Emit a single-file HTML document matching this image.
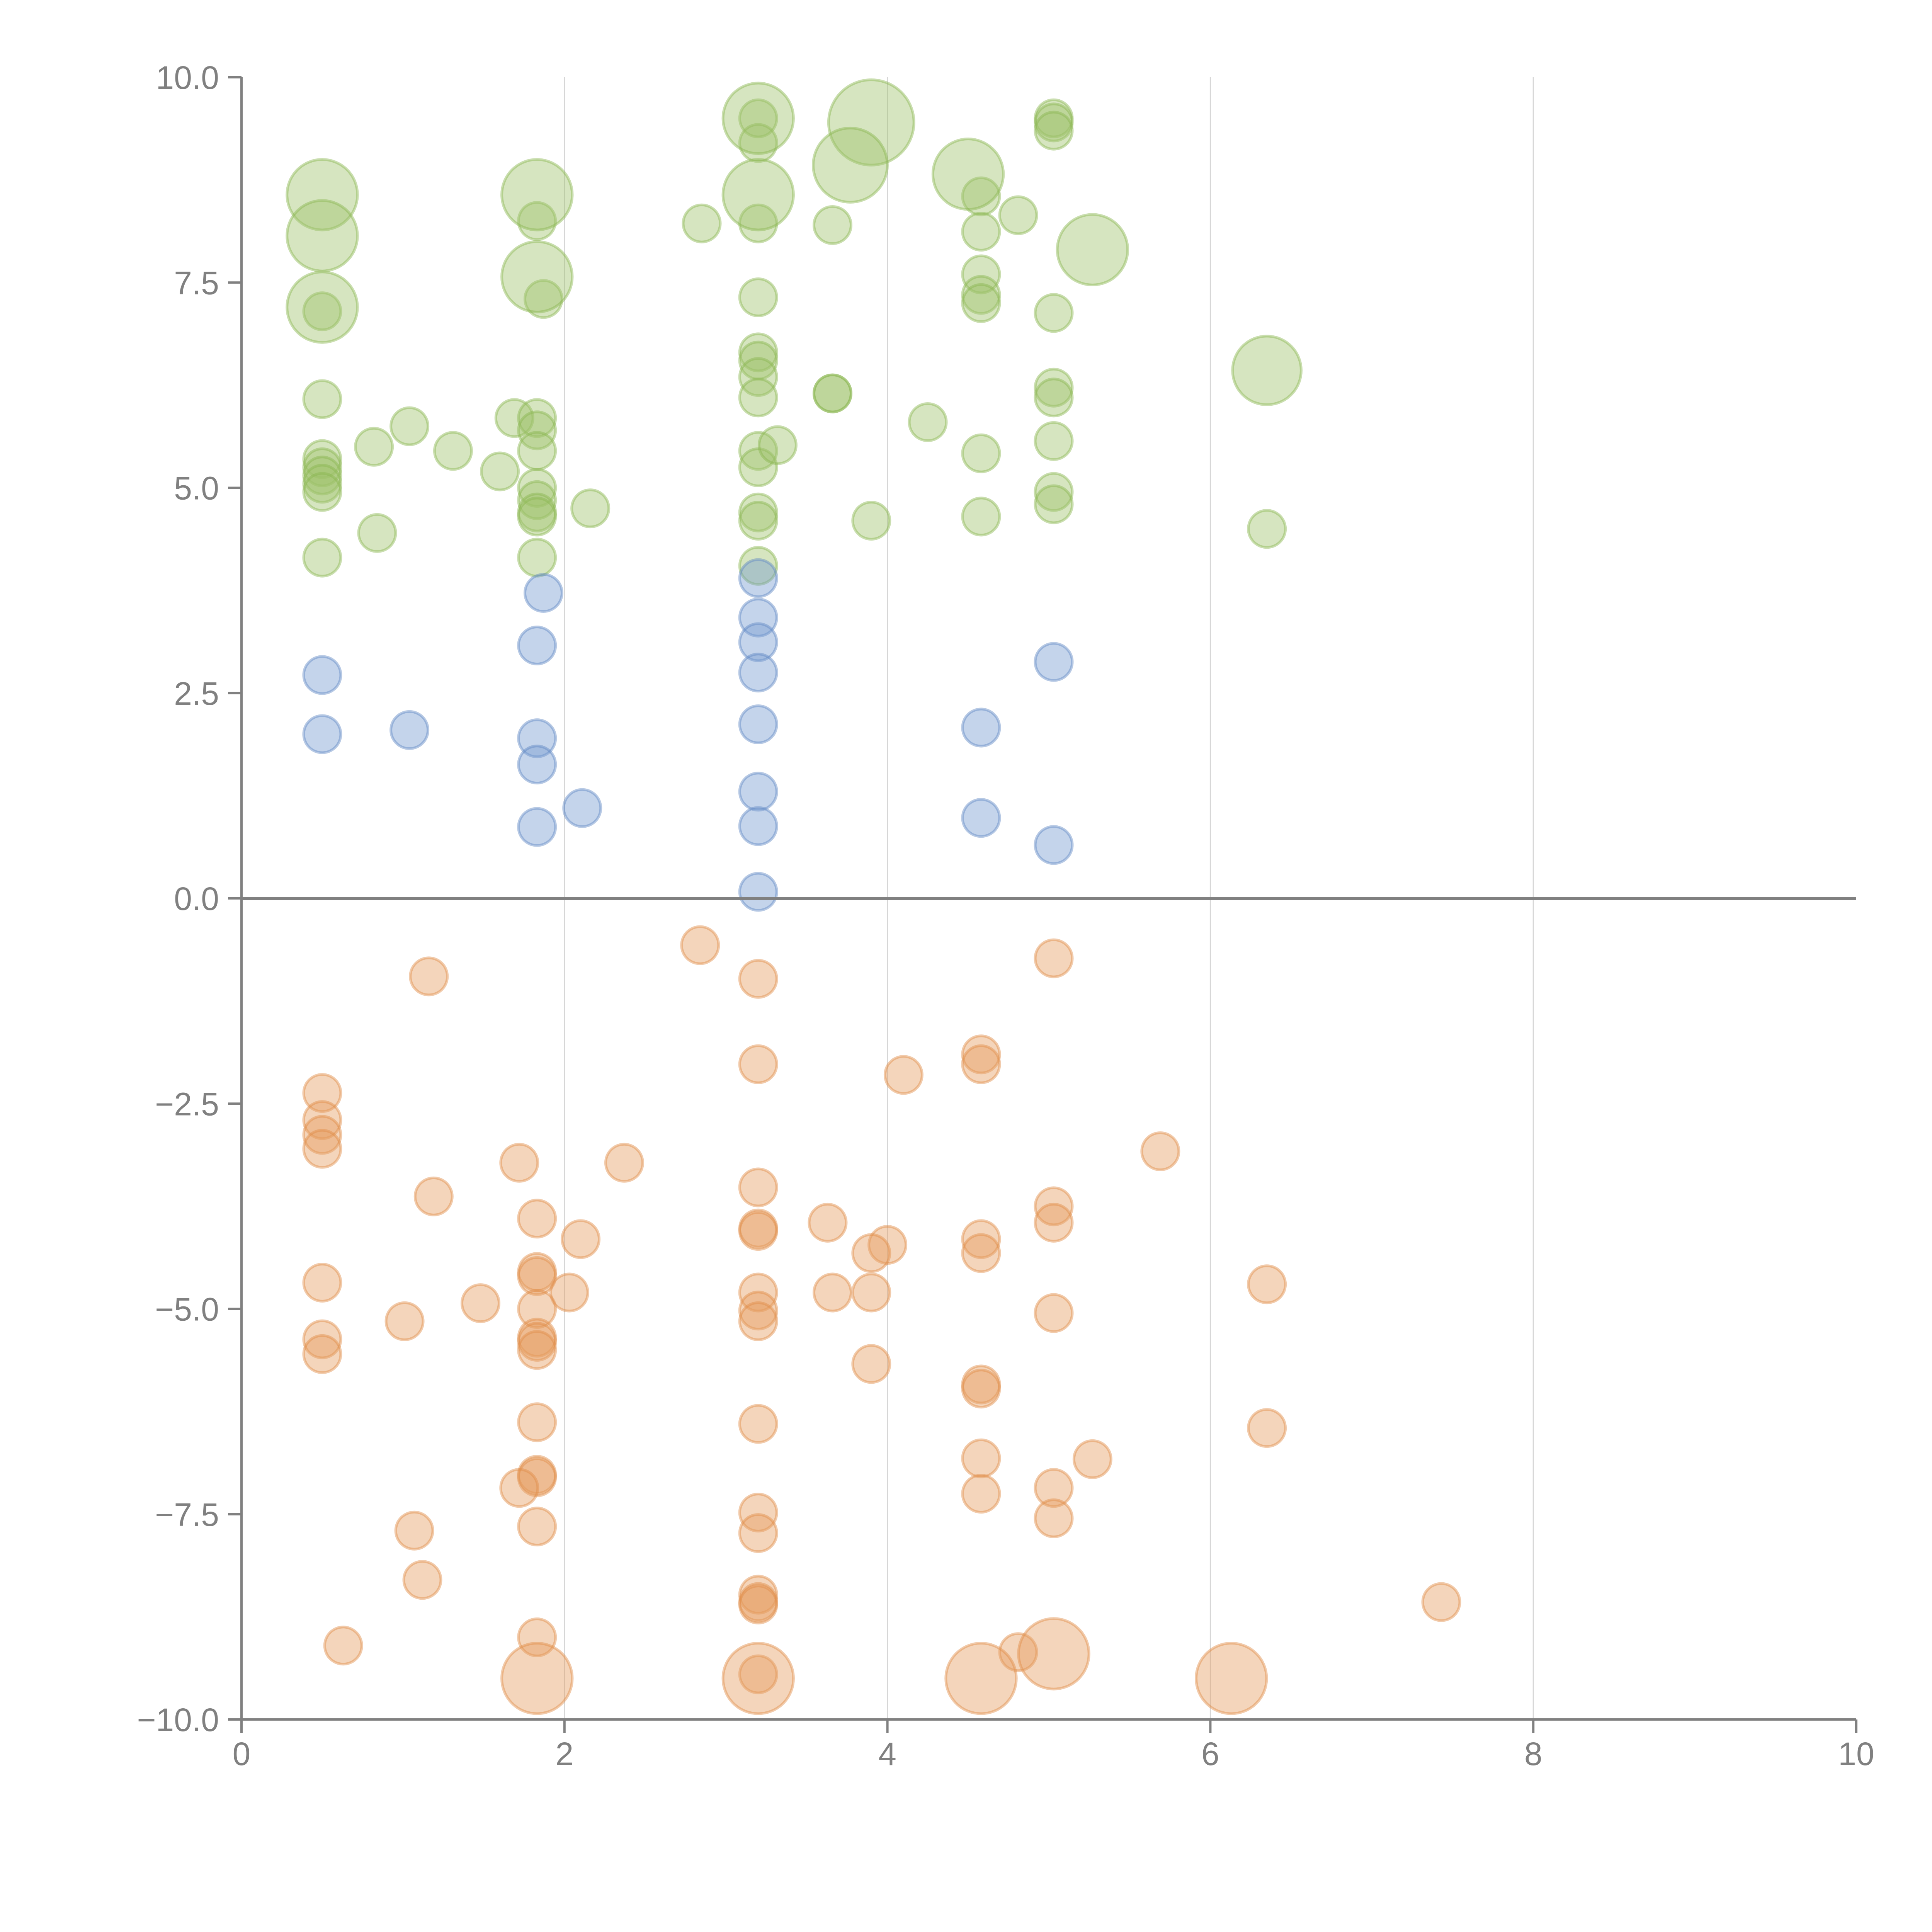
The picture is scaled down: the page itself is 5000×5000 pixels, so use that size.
<!DOCTYPE html>
<html><head><meta charset="utf-8"><style>
html,body{margin:0;padding:0;background:#fff;}
svg{display:block;}
text{font-family:"Liberation Sans",sans-serif;fill:#808080;font-size:84px;}
</style></head><body>
<svg id="chart" width="5000" height="5000" viewBox="0 0 5000 5000" xmlns="http://www.w3.org/2000/svg">
<g id="grid"></g>
<g id="marks"></g>
<g id="axes"></g>
</svg>
<script>
const xTicks=[0,2,4,6,8,10];
const yTicks=[-10,-7.5,-5,-2.5,0,2.5,5,7.5,10];
const yTickLabels=["\u221210.0","\u22127.5","\u22125.0","\u22122.5","0.0","2.5","5.0","7.5","10.0"];
const greenX=[0.5,0.5,0.5,0.5,0.5,0.5,0.5,0.5,0.82,0.84,1.04,1.31,1.6,1.69,1.83,1.83,1.83,1.83,1.83,1.83,1.83,1.83,1.83,1.87,2.16,2.85,3.2,3.2,3.2,3.2,3.2,3.2,3.2,3.2,3.2,3.2,3.2,3.2,3.2,3.32,3.66,3.66,3.66,3.9,4.25,4.58,4.58,4.58,4.58,4.58,4.58,4.58,4.81,5.03,5.03,5.03,5.03,5.03,5.03,5.03,5.03,5.03,6.35,
0.5,0.5,0.5,1.83,1.83,3.2,3.2,3.9,3.77,4.5,5.27,6.35];
const greenY=[7.15,6.08,5.35,5.25,5.15,5.05,4.95,4.15,5.5,4.45,5.75,5.45,5.2,5.85,8.25,5.85,5.7,5.45,5.0,4.85,4.7,4.65,4.15,7.3,4.75,8.22,9.5,9.2,8.22,7.32,6.65,6.55,6.35,6.1,5.45,5.25,4.7,4.6,4.05,5.52,8.2,6.15,6.15,4.6,5.8,8.55,8.12,7.6,7.35,7.25,5.42,4.65,8.32,9.5,9.45,9.35,7.13,6.22,6.1,5.57,4.95,4.8,4.5,
8.57,8.07,7.2,8.57,7.57,9.5,8.57,9.45,8.93,8.82,7.9,6.43];
const greenSize=[1,1,1,1,1,1,1,1,1,1,1,1,1,1,1,1,1,1,1,1,1,1,1,1,1,1,1,1,1,1,1,1,1,1,1,1,1,1,1,1,1,1,1,1,1,1,1,1,1,1,1,1,1,1,1,1,1,1,1,1,1,1,1,
1.9,1.9,1.9,1.9,1.9,1.9,1.9,2.3,2.0,1.9,1.9,1.85];
const blueX=[0.5,0.5,1.04,1.83,1.87,1.83,1.83,1.83,2.11,3.2,3.2,3.2,3.2,3.2,3.2,3.2,3.2,4.58,4.58,5.03,5.03];
const blueY=[2.72,2.0,2.05,3.08,3.72,1.95,1.63,0.87,1.1,3.9,3.42,3.12,2.75,2.12,1.3,0.88,0.08,2.08,0.98,2.88,0.65];
const orangeX=[2.84,1.16,3.2,5.03,3.2,4.1,4.58,4.58,0.5,0.5,0.5,0.5,1.72,2.37,5.69,1.19,3.2,1.83,3.2,3.2,3.63,2.1,5.03,5.03,4.58,4.58,4.0,3.9,1.83,1.83,0.5,6.35,3.2,3.66,3.9,2.03,1.48,1.83,3.2,3.2,1.01,5.03,0.5,0.5,1.83,1.83,1.83,3.9,4.58,4.58,1.83,3.2,6.35,4.58,5.27,1.83,1.83,1.72,5.03,4.58,3.2,5.03,1.83,1.07,3.2,1.12,3.2,3.2,3.2,7.43,1.83,0.63,3.2,4.81,
1.83,3.2,4.58,5.03,6.13];
const orangeY=[-0.57,-0.95,-0.98,-0.73,-2.02,-2.15,-1.9,-2.02,-2.37,-2.7,-2.88,-3.05,-3.22,-3.22,-3.08,-3.63,-3.52,-3.9,-4.02,-4.05,-3.95,-4.15,-3.75,-3.95,-4.15,-4.32,-4.22,-4.32,-4.55,-4.6,-4.68,-4.7,-4.8,-4.8,-4.8,-4.8,-4.93,-5.0,-5.02,-5.15,-5.15,-5.05,-5.37,-5.55,-5.35,-5.4,-5.5,-5.67,-5.92,-5.97,-6.38,-6.4,-6.45,-6.82,-6.83,-7.02,-7.05,-7.18,-7.18,-7.25,-7.48,-7.55,-7.65,-7.7,-7.73,-8.3,-8.48,-8.57,-8.6,-8.57,-9.0,-9.1,-9.45,-9.18,
-9.5,-9.5,-9.5,-9.2,-9.5];
const orangeSize=[1,1,1,1,1,1,1,1,1,1,1,1,1,1,1,1,1,1,1,1,1,1,1,1,1,1,1,1,1,1,1,1,1,1,1,1,1,1,1,1,1,1,1,1,1,1,1,1,1,1,1,1,1,1,1,1,1,1,1,1,1,1,1,1,1,1,1,1,1,1,1,1,1,1,
1.9,1.9,1.9,1.9,1.9];

const X0=625,X1=4804,Y0=4450,Y1=200;
function sx(v){return X0+(v-0)/(10-0)*(X1-X0);}
function sy(v){return Y0-(v+10)/20*(Y0-Y1);}
const NS="http://www.w3.org/2000/svg";
function mk(tag,parent,attrs){const e=document.createElementNS(NS,tag);for(const k in attrs)e.setAttribute(k,attrs[k]);parent.appendChild(e);return e;}
const grid=document.getElementById('grid'),marks=document.getElementById('marks'),axes=document.getElementById('axes');
xTicks.forEach(t=>{if(t>0&&t<10){const l=mk('line',grid,{x1:sx(t),x2:sx(t),y1:Y1,y2:Y0,stroke:'#d6d6d6','stroke-width':3});

}});
function series(xs,ys,ss,fill,stroke,name){
  for(let i=0;i<xs.length;i++){
    const c=mk('circle',marks,{cx:sx(xs[i]),cy:sy(ys[i]),r:48*(ss?ss[i]:1),fill:fill,'fill-opacity':0.42,stroke:stroke,'stroke-opacity':0.45,'stroke-width':7});
    
    
  }
}
series(greenX,greenY,greenSize,'#9dc26a','#8ab650','green-bubble');
series(blueX,blueY,null,'#7399cf','#5f88c4','blue-bubble');
series(orangeX,orangeY,orangeSize,'#e59a5c','#e08c48','orange-bubble');
// zero line
const z=mk('line',axes,{x1:X0,x2:X1,y1:sy(0),y2:sy(0),stroke:'#808080','stroke-width':8});


const ya=mk('line',axes,{x1:X0,x2:X0,y1:Y1,y2:Y0,stroke:'#808080','stroke-width':6});


const xa=mk('line',axes,{x1:X0,x2:X1,y1:Y0,y2:Y0,stroke:'#808080','stroke-width':6});


xTicks.forEach(t=>{
  const tk=mk('line',axes,{x1:sx(t),x2:sx(t),y1:Y0,y2:Y0+35,stroke:'#808080','stroke-width':6});
  
  
  const tx=mk('text',axes,{x:sx(t),y:Y0+118,'text-anchor':'middle'});tx.textContent=String(t);
  
  
});
yTicks.forEach((t,i)=>{
  const tk=mk('line',axes,{x1:X0-35,x2:X0,y1:sy(t),y2:sy(t),stroke:'#808080','stroke-width':6});
  
  
  const tx=mk('text',axes,{x:X0-58,y:sy(t)+30,'text-anchor':'end'});tx.textContent=yTickLabels[i];
  
  
});
</script>
</body></html>
